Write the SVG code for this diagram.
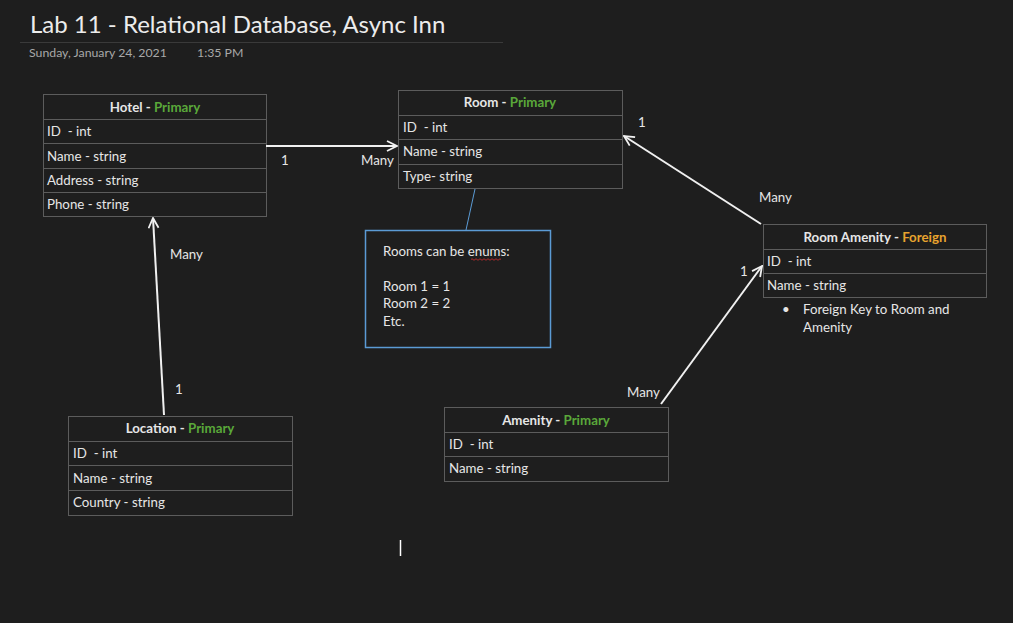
<svg xmlns="http://www.w3.org/2000/svg" width="1013" height="623" viewBox="0 0 1013 623">
<defs>
<style>
text{font-family:Lato,"Open Sans","Liberation Sans",sans-serif;fill:#e6e6e6;font-size:13.3px;white-space:pre}
.cell{fill:#1e1e1e;stroke:#5c5c5c;stroke-width:1}
.hd{font-weight:bold;text-anchor:middle}
.g{fill:#5aa83a}
.o{fill:#e8a32e}
.conn{stroke:#f0f0f0;stroke-width:2;fill:none;marker-end:url(#arr)}
.lbl{font-size:13.3px}
</style>
<marker id="arr" viewBox="0 0 12 12" refX="11" refY="6" markerWidth="12" markerHeight="12" markerUnits="userSpaceOnUse" orient="auto">
<path d="M1,1 L11,6 L1,11" fill="none" stroke="#f0f0f0" stroke-width="1.8"/>
</marker>
</defs>
<rect width="1013" height="623" fill="#1e1e1e"/>
<g id="header">
<text x="30" y="33" style="font-size:24px;fill:#ececec">Lab 11 - Relational Database, Async Inn</text>
<line x1="20" y1="42.5" x2="503" y2="42.5" stroke="#3a3a3a"/>
<text x="29" y="57" style="font-size:12.3px;fill:#a8a8a8">Sunday, January 24, 2021</text>
<text x="197" y="57" style="font-size:12.3px;fill:#a8a8a8">1:35 PM</text>
</g>
<g id="hotel">
<rect class="cell" x="43.5" y="94.5" width="223" height="25"/>
<rect class="cell" x="43.5" y="119.5" width="223" height="24"/>
<rect class="cell" x="43.5" y="143.5" width="223" height="25"/>
<rect class="cell" x="43.5" y="168.5" width="223" height="24"/>
<rect class="cell" x="43.5" y="192.5" width="223" height="24"/>
<text class="hd" x="155" y="112">Hotel - <tspan class="g">Primary</tspan></text>
<text x="47" y="136">ID  - int</text>
<text x="47" y="161">Name - string</text>
<text x="47" y="185">Address - string</text>
<text x="47" y="209">Phone - string</text>
</g>
<g id="room">
<rect class="cell" x="398.5" y="90.5" width="224" height="25"/>
<rect class="cell" x="398.5" y="115.5" width="224" height="24"/>
<rect class="cell" x="398.5" y="139.5" width="224" height="25"/>
<rect class="cell" x="398.5" y="164.5" width="224" height="24"/>
<text class="hd" x="510" y="107">Room - <tspan class="g">Primary</tspan></text>
<text x="403" y="132">ID  - int</text>
<text x="403" y="156">Name - string</text>
<text x="403" y="181">Type- string</text>
</g>
<g id="note">
<rect x="365.5" y="230.5" width="185" height="117" fill="#1e1e1e" stroke="#5b9bd5" stroke-width="1.5"/>
<text x="383" y="256">Rooms can be enums:</text>
<path d="M471,259.5 q1,-1.5 2,0 t2,0 t2,0 t2,0 t2,0 t2,0 t2,0 t2,0 t2,0 t2,0 t2,0 t2,0 t2,0 t2,0 t2,0" fill="none" stroke="#d03030" stroke-width="0.8"/>
<text x="383" y="291">Room 1 = 1</text>
<text x="383" y="308">Room 2 = 2</text>
<text x="383" y="326">Etc.</text>
</g>
<g id="room-amenity">
<rect class="cell" x="763.5" y="224.5" width="223" height="25"/>
<rect class="cell" x="763.5" y="249.5" width="223" height="24"/>
<rect class="cell" x="763.5" y="273.5" width="223" height="24"/>
<text class="hd" x="875" y="242">Room Amenity - <tspan class="o">Foreign</tspan></text>
<text x="767" y="266">ID  - int</text>
<text x="767" y="290">Name - string</text>
<text x="782" y="314">•</text>
<text x="803" y="314">Foreign Key to Room and</text>
<text x="803" y="332">Amenity</text>
</g>
<g id="amenity">
<rect class="cell" x="444.5" y="407.5" width="224" height="25"/>
<rect class="cell" x="444.5" y="432.5" width="224" height="24"/>
<rect class="cell" x="444.5" y="456.5" width="224" height="25"/>
<text class="hd" x="556" y="425">Amenity - <tspan class="g">Primary</tspan></text>
<text x="449" y="449">ID  - int</text>
<text x="449" y="473">Name - string</text>
</g>
<g id="location">
<rect class="cell" x="68.5" y="416.5" width="224" height="25"/>
<rect class="cell" x="68.5" y="441.5" width="224" height="24"/>
<rect class="cell" x="68.5" y="465.5" width="224" height="25"/>
<rect class="cell" x="68.5" y="490.5" width="224" height="25"/>
<text class="hd" x="180" y="433">Location - <tspan class="g">Primary</tspan></text>
<text x="73" y="458">ID  - int</text>
<text x="73" y="483">Name - string</text>
<text x="73" y="507">Country - string</text>
</g>
<g id="connectors">
<line class="conn" x1="266" y1="146" x2="397" y2="146"/>
<line class="conn" x1="761" y1="224" x2="624" y2="136"/>
<line class="conn" x1="661" y1="404" x2="762" y2="266"/>
<line class="conn" x1="164" y1="415" x2="153" y2="218"/>
<line x1="475" y1="189" x2="466" y2="230" stroke="#5b9bd5" stroke-width="1"/>
<text class="lbl" x="281" y="165">1</text>
<text class="lbl" x="361" y="165">Many</text>
<text class="lbl" x="638" y="127">1</text>
<text class="lbl" x="759" y="202">Many</text>
<text class="lbl" x="740" y="276">1</text>
<text class="lbl" x="627" y="397">Many</text>
<text class="lbl" x="170" y="259">Many</text>
<text class="lbl" x="175" y="394">1</text>
</g>
<line x1="400.5" y1="540" x2="400.5" y2="556" stroke="#ffffff" stroke-width="1.5"/>
</svg>
